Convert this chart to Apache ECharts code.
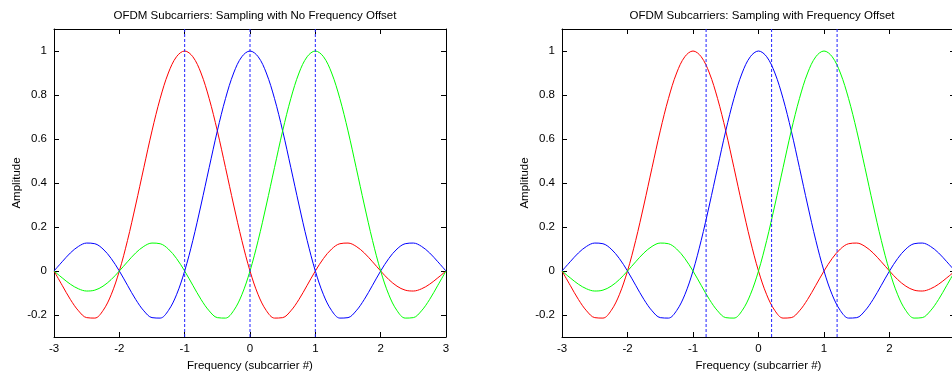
<!DOCTYPE html>
<html><head><meta charset="utf-8">
<script src="https://cdn.jsdelivr.net/npm/echarts@6/dist/echarts.min.js"></script>
<style>html,body{margin:0;padding:0;background:#fff}#c{width:952px;height:372px}</style>
</head><body><div id="c"></div>
<script>
// Frequency grid (subcarrier #), step 0.125
const freq = [-3,-2.875,-2.75,-2.625,-2.5,-2.375,-2.25,-2.125,-2,-1.875,-1.75,-1.625,-1.5,-1.375,-1.25,-1.125,-1,-0.875,-0.75,-0.625,-0.5,-0.375,-0.25,-0.125,0,0.125,0.25,0.375,0.5,0.625,0.75,0.875,1,1.125,1.25,1.375,1.5,1.625,1.75,1.875,2,2.125,2.25,2.375,2.5,2.625,2.75,2.875,3];
// Subcarrier centred at -1 (red)
const redAmp = [0,-0.065,-0.129,-0.181,-0.212,-0.214,-0.180,-0.108,0,0.139,0.300,0.470,0.637,0.784,0.900,0.974,1,0.974,0.900,0.784,0.637,0.470,0.300,0.139,0,-0.108,-0.180,-0.214,-0.212,-0.181,-0.129,-0.065,0,0.057,0.100,0.124,0.127,0.112,0.082,0.042,0,-0.039,-0.069,-0.087,-0.091,-0.081,-0.060,-0.031,0];
// Subcarrier centred at 0 (blue)
const blueAmp = [0,0.042,0.082,0.112,0.127,0.124,0.100,0.057,0,-0.065,-0.129,-0.181,-0.212,-0.214,-0.180,-0.108,0,0.139,0.300,0.470,0.637,0.784,0.900,0.974,1,0.974,0.900,0.784,0.637,0.470,0.300,0.139,0,-0.108,-0.180,-0.214,-0.212,-0.181,-0.129,-0.065,0,0.057,0.100,0.124,0.127,0.112,0.082,0.042,0];
// Subcarrier centred at +1 (green)
const greenAmp = [0,-0.031,-0.060,-0.081,-0.091,-0.087,-0.069,-0.039,0,0.042,0.082,0.112,0.127,0.124,0.100,0.057,0,-0.065,-0.129,-0.181,-0.212,-0.214,-0.180,-0.108,0,0.139,0.300,0.470,0.637,0.784,0.900,0.974,1,0.974,0.900,0.784,0.637,0.470,0.300,0.139,0,-0.108,-0.180,-0.214,-0.212,-0.181,-0.129,-0.065,0];
// Sampling instants
const samplesNoOffset = [-1,0,1];
const samplesOffset = [-0.8,0.2,1.2];
// Axis ranges and tick labels
const xMin = -3, xMax = 3;
const yMin = -0.3, yMax = 1.1;
const yTicks = [-0.2,0,0.2,0.4,0.6,0.8,1];
const titles = ['OFDM Subcarriers: Sampling with No Frequency Offset','OFDM Subcarriers: Sampling with Frequency Offset'];
const xLabel = 'Frequency (subcarrier #)';
const yLabel = 'Amplitude';

const FONT = 'Liberation Sans, Arial, sans-serif';
const FS = 11.5;
const chart = echarts.init(document.getElementById('c'), null, {renderer:'canvas'});
const grids = [
  {left:54, top:29, width:392, height:308, outerBoundsMode:'none', containLabel:false},
  {left:562, top:29, width:393, height:308, outerBoundsMode:'none', containLabel:false}
];
const titleCx = [250, 757];
const samples = [samplesNoOffset, samplesOffset];

const xAxes = [], yAxes = [], series = [];
grids.forEach((g, i) => {
  const base = {type:'value', min:xMin, max:xMax, interval:1, gridIndex:i,
    axisLine:{show:true, onZero:false, lineStyle:{color:'#000', width:1}},
    axisTick:{show:true, inside:true, length:5, lineStyle:{color:'#000'}},
    splitLine:{show:false}};
  xAxes.push(Object.assign({}, base, {position:'bottom',
    axisLabel:{color:'#000', fontFamily:FONT, fontSize:FS, margin:6, formatter:v=>String(v)},
    name:xLabel, nameLocation:'middle', nameGap:18,
    nameTextStyle:{color:'#000', fontFamily:FONT, fontSize:FS}}));
  xAxes.push(Object.assign({}, base, {position:'top', axisLabel:{show:false}}));
  const ybase = {type:'value', min:yMin, max:yMax, gridIndex:i,
    axisLine:{show:true, onZero:false, lineStyle:{color:'#000', width:1}},
    axisTick:{show:true, inside:true, length:5, lineStyle:{color:'#000'}, customValues:yTicks},
    splitLine:{show:false}};
  yAxes.push(Object.assign({}, ybase, {position:'left',
    axisLabel:{color:'#000', fontFamily:FONT, fontSize:FS, margin:7, customValues:yTicks, formatter:v=>String(Math.round(v*10)/10)},
    name:yLabel, nameLocation:'middle', nameGap:31, nameRotate:90,
    nameTextStyle:{color:'#000', fontFamily:FONT, fontSize:FS}}));
  yAxes.push(Object.assign({}, ybase, {position:'right', axisLabel:{show:false}}));
  const mk = (name, amp, color) => ({type:'line', name, xAxisIndex:2*i, yAxisIndex:2*i,
    data:freq.map((f,k)=>[f, amp[k]]), showSymbol:false, smooth:0.35,
    lineStyle:{color, width:1}, itemStyle:{color}, silent:true, animation:false, z:3});
  series.push(mk('sc-1', redAmp, '#ff0000'));
  series.push(mk('sc0', blueAmp, '#0000ff'));
  series.push(mk('sc1', greenAmp, '#00ff00'));
  samples[i].forEach((v, j) => {
    series.push({type:'line', name:'sample'+i+'_'+j, xAxisIndex:2*i, yAxisIndex:2*i,
      data:[[v, yMin],[v, yMax]], showSymbol:false, silent:true, animation:false, z:4,
      lineStyle:{color:'#2222ff', width:1, type:[3,2]}, itemStyle:{color:'#2222ff'}});
  });
});

chart.setOption({
  backgroundColor:'#fff',
  animation:false,
  title: titles.map((t,i)=>({text:t, left:titleCx[i], top:5, textAlign:'center',
    textStyle:{color:'#000', fontFamily:FONT, fontSize:FS, fontWeight:'normal'}})),
  grid: grids,
  xAxis: xAxes,
  yAxis: yAxes,
  series
});
</script></body></html>
